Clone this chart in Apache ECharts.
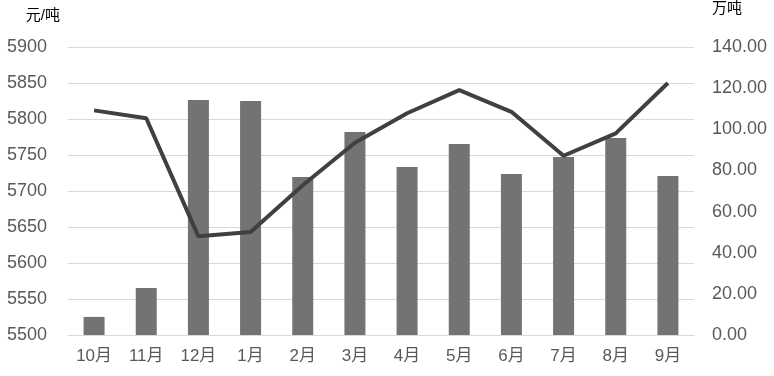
<!DOCTYPE html>
<html>
<head>
<meta charset="utf-8">
<script src="https://cdn.jsdelivr.net/npm/echarts@6/dist/echarts.min.js"></script>
<style>
  html, body { margin: 0; padding: 0; background: #fff; }
  #chart { width: 774px; height: 376px; }
</style>
</head>
<body>
<div id="chart"></div>
<script>
// 月份
var months = ['10月', '11月', '12月', '1月', '2月', '3月', '4月', '5月', '6月', '7月', '8月', '9月'];
// 价格（元/吨，左轴）
var price = [5812, 5801, 5637, 5643, 5708, 5767, 5808, 5840, 5810, 5749, 5780, 5850];
// 数量（万吨，右轴）
var volume = [8.8, 22.8, 114.2, 113.8, 76.8, 98.7, 81.7, 92.8, 78.3, 86.5, 95.8, 77.3];

var font = "'Liberation Sans', 'Noto Sans CJK SC', sans-serif";
var myChart = echarts.init(document.getElementById('chart'));

var option = {
	animation: false,
	textStyle: { fontFamily: font },
	grid: { left: 68, right: 80, top: 47, bottom: 41 },
	xAxis: {
		type: 'category',
		data: months,
		axisLine: { lineStyle: { color: '#d9d9d9', width: 1 } },
		axisTick: { show: false },
		axisLabel: { color: '#595959', fontSize: 17, margin: 13, fontFamily: font }
	},
	yAxis: [{
		type: 'value',
		min: 5500,
		max: 5900,
		interval: 50,
		name: '元/吨',
		nameLocation: 'end',
		nameGap: 24,
		nameTextStyle: { color: '#000', fontSize: 15, align: 'right', padding: [0, 8, 0, 0], fontFamily: font },
		axisLine: { show: false },
		axisTick: { show: false },
		axisLabel: {
			color: '#595959', fontSize: 18, margin: 21, fontFamily: font,
			formatter: function (v) { return String(v); }
		},
		splitLine: { lineStyle: { color: '#d9d9d9', width: 1 } }
	}, {
		type: 'value',
		min: 0,
		max: 140,
		interval: 20,
		name: '万吨',
		nameLocation: 'end',
		nameGap: 31,
		nameTextStyle: { color: '#000', fontSize: 15, align: 'left', padding: [0, 0, 0, 18], fontFamily: font },
		axisLine: { show: false },
		axisTick: { show: false },
		axisLabel: {
			color: '#595959', fontSize: 18, margin: 18, fontFamily: font,
			formatter: function (v) { return v.toFixed(2); }
		},
		splitLine: { show: false }
	}],
	series: [{
		name: '数量',
		type: 'bar',
		yAxisIndex: 1,
		barWidth: 21,
		itemStyle: { color: '#737373' },
		data: volume
	}, {
		name: '价格',
		type: 'line',
		yAxisIndex: 0,
		symbol: 'none',
		lineStyle: { color: '#404040', width: 4 },
		data: price
	}]
};
myChart.setOption(option);
</script>
</body>
</html>
